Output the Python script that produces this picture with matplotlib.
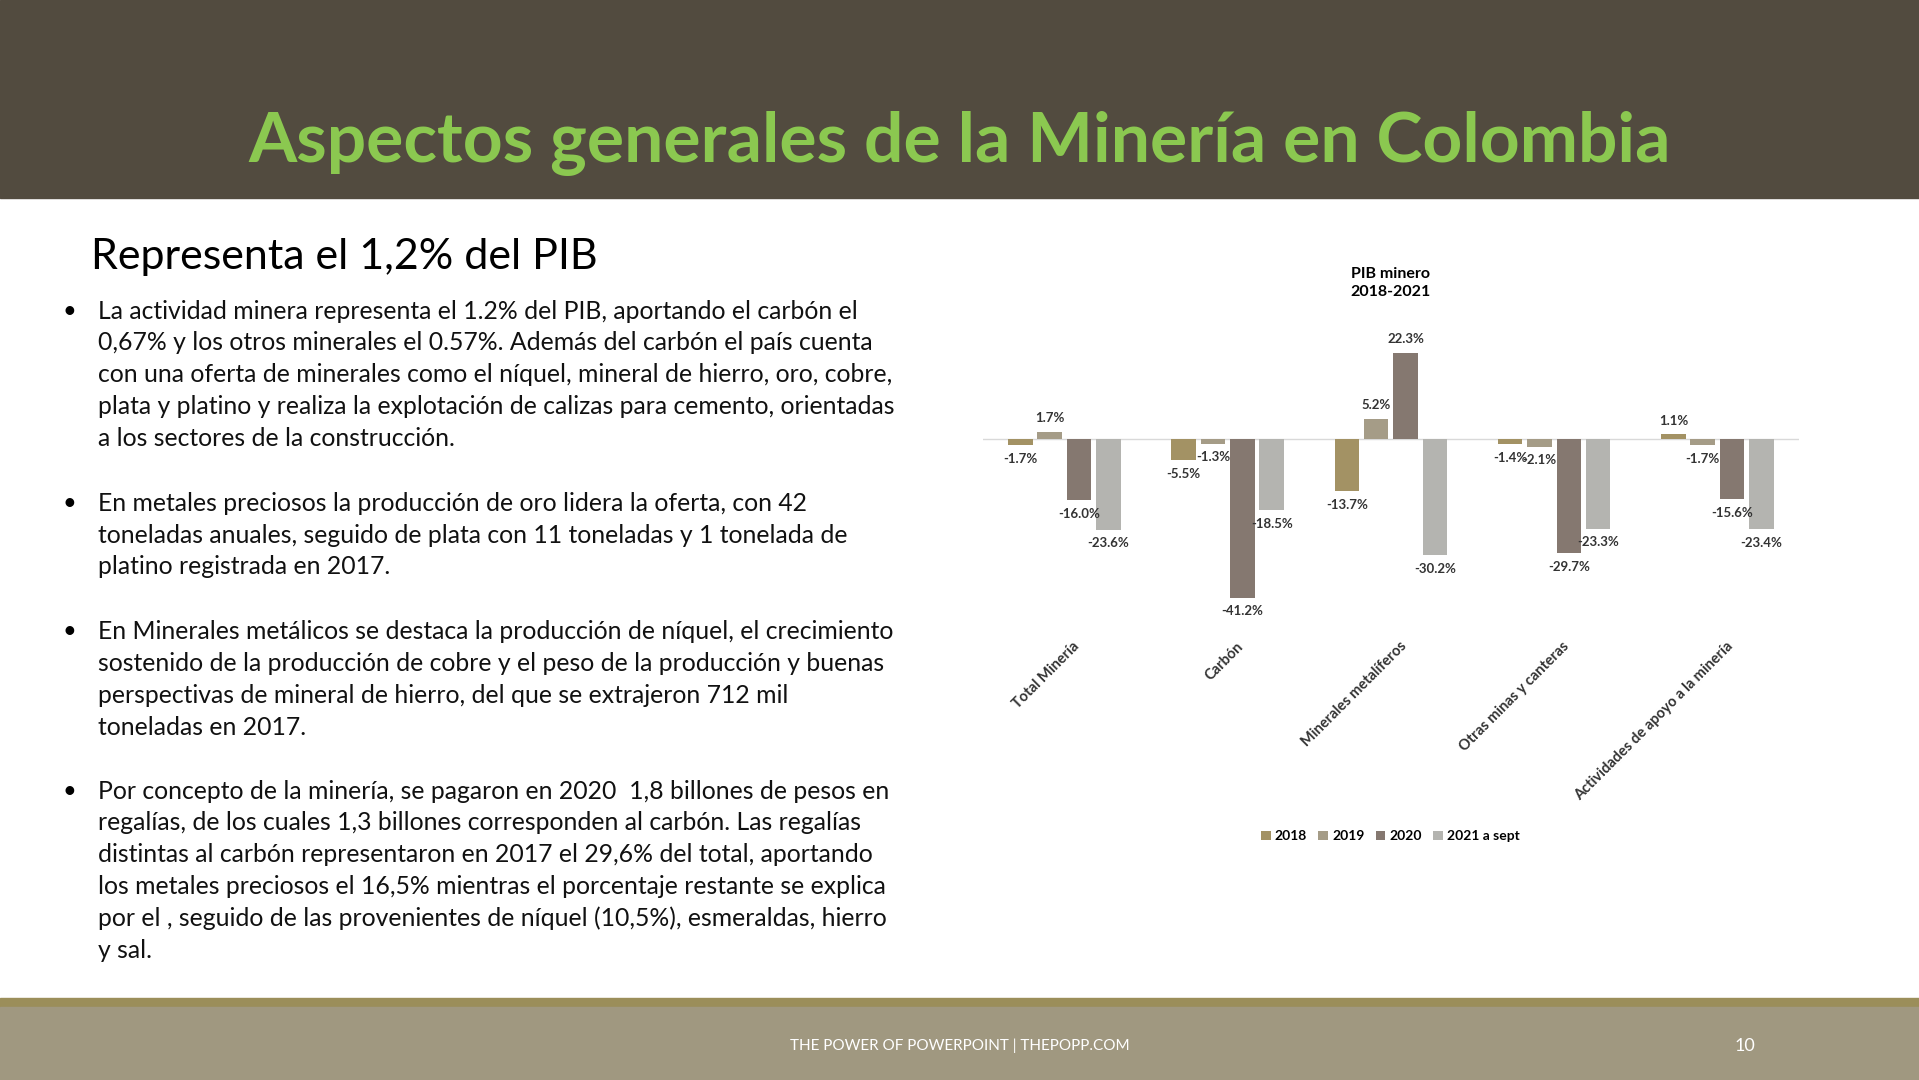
import matplotlib
matplotlib.use("Agg")
import matplotlib.pyplot as plt
import numpy as np
from matplotlib.patches import Rectangle

categories = ["Total Minería", "Carbón", "Minerales metalíferos", "Otras minas y canteras", "Actividades de apoyo a la minería"]
years = ["2018", "2019", "2020", "2021 a sept"]
values = [
    [-1.7, -5.5, -13.7, -1.4, 1.1],
    [1.7, -1.3, 5.2, -2.1, -1.7],
    [-16.0, -41.2, 22.3, -29.7, -15.6],
    [-23.6, -18.5, -30.2, -23.3, -23.4],
]
colors = ["#A39264", "#A59C87", "#857870", "#B4B4B0"]

W, H = 1568, 882
plt.rcParams['font.family'] = ['Lato', 'DejaVu Sans']
fig = plt.figure(figsize=(19.19, 10.80), dpi=100)
def fx(x): return x / W
def fy(y): return 1 - y / H

fig.patches.append(Rectangle((0, fy(162)), 1, 162 / H, transform=fig.transFigure, color="#524B3F", zorder=0))
fig.patches.append(Rectangle((0, fy(822)), 1, 7 / H, transform=fig.transFigure, color="#9B8E5A", zorder=0))
fig.patches.append(Rectangle((0, 0), 1, 60 / H, transform=fig.transFigure, color="#A09880", zorder=0))
fig.text(0.5, fy(117), "Aspectos generales de la Minería en Colombia", ha="center", va="center",
         color="#8BC850", fontsize=50, fontweight="bold")
fig.text(0.5, fy(854), "THE POWER OF POWERPOINT | THEPOPP.COM", ha="center", va="center", color="white", fontsize=11)
fig.text(fx(1426), fy(854), "10", ha="center", va="center", color="white", fontsize=13)
fig.text(fx(74), fy(210), "Representa el 1,2% del PIB", ha="left", va="center", fontsize=31, color="black")

paras = [
    ["La actividad minera representa el 1.2% del PIB, aportando el carbón el",
     "0,67% y los otros minerales el 0.57%. Además del carbón el país cuenta",
     "con una oferta de minerales como el níquel, mineral de hierro, oro, cobre,",
     "plata y platino y realiza la explotación de calizas para cemento, orientadas",
     "a los sectores de la construcción."],
    ["En metales preciosos la producción de oro lidera la oferta, con 42",
     "toneladas anuales, seguido de plata con 11 toneladas y 1 tonelada de",
     "platino registrada en 2017."],
    ["En Minerales metálicos se destaca la producción de níquel, el crecimiento",
     "sostenido de la producción de cobre y el peso de la producción y buenas",
     "perspectivas de mineral de hierro, del que se extrajeron 712 mil",
     "toneladas en 2017."],
    ["Por concepto de la minería, se pagaron en 2020  1,8 billones de pesos en",
     "regalías, de los cuales 1,3 billones corresponden al carbón. Las regalías",
     "distintas al carbón representaron en 2017 el 29,6% del total, aportando",
     "los metales preciosos el 16,5% mientras el porcentaje restante se explica",
     "por el , seguido de las provenientes de níquel (10,5%), esmeraldas, hierro",
     "y sal."],
]
starts = [254, 411, 516, 646]
for p, y0 in zip(paras, starts):
    fig.text(fx(57), fy(y0), "•", ha="center", va="center", fontsize=17)
    for i, line in enumerate(p):
        fig.text(fx(80), fy(y0 + i * 26), line, ha="left", va="center", fontsize=17.8, color="#111111")

ax = fig.add_axes([fx(803), fy(500), fx(1470 - 803), (500 - 270) / H])
n = len(categories)
x = np.arange(n)
bw = 0.15
step = 0.18
for k in range(4):
    xs = x + (k - 1.5) * step
    ax.bar(xs, values[k], width=bw, color=colors[k], label=years[k], zorder=2)
    for xi, v in zip(xs, values[k]):
        off = 2.0 if v >= 0 else -2.0
        ax.text(xi, v + off, f"{v:.1f}%", ha="center", va="bottom" if v >= 0 else "top",
                fontsize=9.5, fontweight="bold", color="#333333")
ax.axhline(0, color="#D9D9D9", lw=1, zorder=1)
ax.set_xlim(-0.5, n - 0.5)
ax.set_ylim(-45, 28)
ax.axis("off")
for xi, c in zip(x, categories):
    ax.text(xi + 0.05, -52, c, rotation=45, ha="right", va="top", fontsize=10.5, fontweight="bold",
            color="#333333", rotation_mode="anchor")
fig.text(fx(1136), fy(231), "PIB minero\n2018-2021", ha="center", va="center", fontsize=11.5,
         fontweight="bold", linespacing=1.4)
handles, labels = ax.get_legend_handles_labels()
fig.legend(handles, labels, loc="center", bbox_to_anchor=(fx(1136), fy(683)), ncol=4, frameon=False,
           prop={"size": 10, "weight": "bold"}, handlelength=0.7, handleheight=0.7, columnspacing=0.8, handletextpad=0.3)
fig.savefig("out.png", dpi=100)
